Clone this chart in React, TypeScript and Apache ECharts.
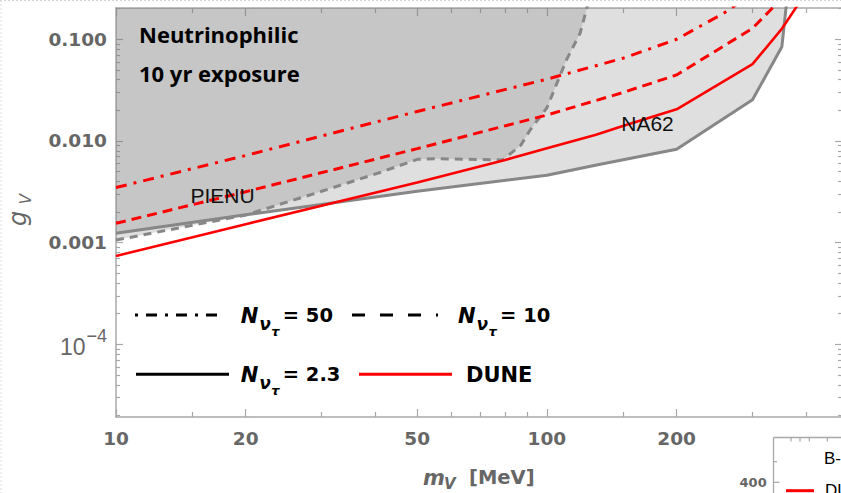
import React, { useEffect, useRef } from 'react';
import * as echarts from 'echarts';

// ---- data ----
const massN50 = [10, 20, 50, 100, 150, 200, 257, 300];
const couplingN50 = [0.00348, 0.0072, 0.0195, 0.0405, 0.065, 0.1, 0.18, 0.28];

const massN10 = [10, 20, 50, 100, 150, 200, 300, 340, 370];
const couplingN10 = [0.00155, 0.00317, 0.0084, 0.018, 0.0299, 0.0446, 0.128, 0.22, 0.35];

const massN23 = [10, 20, 50, 80, 100, 130, 150, 200, 300, 350, 380, 400];
const couplingN23 = [0.00074, 0.00152, 0.0039, 0.0065, 0.0085, 0.0115, 0.014, 0.0205, 0.057, 0.125, 0.21, 0.3];

const massBound = [10, 20, 50, 100, 133, 200, 300, 351, 359, 365];
const couplingBound = [0.00124, 0.00188, 0.0032, 0.0046, 0.0059, 0.0083, 0.0254, 0.0846, 0.206, 0.4];

const massPienu = [10, 20, 30, 41, 50, 55, 79, 87, 91.4, 100, 111, 119.4, 123.8, 127];
const couplingPienu = [0.00106, 0.00187, 0.0032, 0.0049, 0.0066, 0.0067, 0.0065, 0.0091, 0.0128, 0.0212, 0.0626, 0.1146, 0.203, 0.3];

const xMajorTicks = [10, 20, 50, 100, 200];
const xMinorTicks = [15, 30, 40, 60, 70, 80, 90, 150, 300, 400];
const yMajorTicks = [1e-4, 1e-3, 1e-2, 1e-1];
const yTickLabels = ['10^-4', '0.001', '0.010', '0.100'];
const yMinorMultipliers = [2, 3, 4, 5, 6, 7, 8, 9];
const yMinorDecades = [1e-5, 1e-4, 1e-3, 1e-2, 1e-1];

const X_MIN = 10;
const X_MAX = 484;
const Y_MIN = 1.93e-5;
const Y_MAX = 0.203;

const yMinorTicks: number[] = [];
yMinorDecades.forEach((d) => yMinorMultipliers.forEach((m) => yMinorTicks.push(m * d)));

const pairs = (xs: number[], ys: number[]) => xs.map((x, i) => [x, ys[i]]);

const AXIS = '#a8a8a8';
const LABEL = '#666666';
const BOLD_FONT = 'DejaVu Sans';
const FILL = 'rgba(118,118,118,0.23)';

function yFormatter(v: number) {
  const i = yMajorTicks.findIndex((t) => Math.abs(Math.log10(t) - Math.log10(v)) < 1e-6);
  if (i < 0) return '';
  const lab = yTickLabels[i];
  if (lab.startsWith('10^')) {
    return '{p|10}{s|' + lab.slice(3).replace('-', '\u2212') + '}';
  }
  return '{b|' + lab + '}';
}

function xAxisDef(position: 'top' | 'bottom', major: boolean) {
  return {
    type: 'log',
    gridIndex: 0,
    position,
    min: X_MIN,
    max: X_MAX,
    logBase: 10,
    axisLine: { show: major, onZero: false, lineStyle: { color: AXIS, width: 1.5 } },
    axisTick: {
      show: true,
      inside: true,
      length: major ? 8 : 5,
      customValues: major ? xMajorTicks : xMinorTicks,
      lineStyle: { color: AXIS, width: 1.2 },
    },
    axisLabel: major && position === 'bottom'
      ? {
          show: true,
          customValues: xMajorTicks,
          formatter: (v: number) => String(Math.round(v)),
          margin: 12,
          fontFamily: BOLD_FONT,
          fontWeight: 'bold',
          fontSize: 18.5,
          color: LABEL,
        }
      : { show: false },
    splitLine: { show: false },
    minorTick: { show: false },
  };
}

function yAxisDef(position: 'left' | 'right', major: boolean) {
  return {
    type: 'log',
    gridIndex: 0,
    position,
    min: Y_MIN,
    max: Y_MAX,
    logBase: 10,
    axisLine: { show: major, onZero: false, lineStyle: { color: AXIS, width: 1.5 } },
    axisTick: {
      show: true,
      inside: true,
      length: major ? 7 : 4,
      customValues: major ? yMajorTicks : yMinorTicks,
      lineStyle: { color: AXIS, width: 1.2 },
    },
    axisLabel: major && position === 'left'
      ? {
          show: true,
          customValues: yMajorTicks,
          formatter: yFormatter,
          margin: 9,
          rich: {
            b: { fontFamily: BOLD_FONT, fontWeight: 'bold', fontSize: 18.5, color: LABEL },
            p: { fontFamily: 'Liberation Sans', fontSize: 23, color: LABEL, padding: [6, 1, 0, 0] },
            s: { fontFamily: 'Liberation Sans', fontSize: 18, color: LABEL, padding: [0, 0, 17, 0] },
          },
        }
      : { show: false },
    splitLine: { show: false },
    minorTick: { show: false },
  };
}

const txt = (
  text: string,
  x: number,
  y: number,
  font: string,
  fill: string,
  align: string = 'left',
  extra: any = {}
) => ({
  type: 'text',
  x,
  y,
  z: 50,
  silent: true,
  ...extra,
  style: { text, font, fill, align, verticalAlign: 'middle' },
});

const hline = (x1: number, x2: number, y: number, stroke: string, dash?: number[], width = 3) => ({
  type: 'line',
  z: 50,
  silent: true,
  shape: { x1, y1: y, x2, y2: y },
  style: { stroke, lineWidth: width, lineDash: dash },
});

const seg = (x1: number, y1: number, x2: number, y2: number, stroke: string, width = 1.2, dash?: number[]) => ({
  type: 'line',
  z: 50,
  silent: true,
  shape: { x1, y1, x2, y2 },
  style: { stroke, lineWidth: width, lineDash: dash },
});

function legendLabel(x: number, yc: number, value: string) {
  return [
    txt('N', x, yc, 'italic bold 21px "DejaVu Sans"', '#000'),
    txt('\u03bd', x + 18.5, yc + 8.5, 'italic bold 17px "DejaVu Sans"', '#000'),
    txt('\u03c4', x + 30.5, yc + 15.5, 'italic bold 13px "DejaVu Sans"', '#000'),
    txt('= ' + value, x + 42, yc, 'bold 19.5px "DejaVu Sans"', '#000'),
  ];
}

const graphicElements: any[] = [
  // screenshot border
  seg(0, 0.5, 841, 0.5, '#d4d4d4', 1, [2, 2]),
  seg(1, 0, 1, 493, '#dcdcdc', 1, [2, 2]),
  // panel texts
  txt('Neutrinophilic', 139, 33.5, 'bold 22px "Open Sans"', '#000'),
  txt('10 yr exposure', 139, 72.5, 'bold 22px "Open Sans"', '#000'),
  txt('PIENU', 222.5, 195.5, '21px "Liberation Sans"', '#111', 'center'),
  txt('NA62', 647.5, 123, '21px "Liberation Sans"', '#111', 'center'),
  // legend
  hline(135, 219, 315, '#000', [3, 8, 11, 8]),
  ...legendLabel(240.7, 315.8, '50'),
  hline(352, 438, 315, '#000', [13, 15]),
  ...legendLabel(458, 315.8, '10'),
  hline(136, 229, 374.3, '#000'),
  ...legendLabel(240.7, 374.5, '2.3'),
  hline(359, 452, 374.3, '#ff0000'),
  txt('DUNE', 466, 374.5, 'bold 21px "DejaVu Sans"', '#000'),
  // axis titles
  txt('m', 423, 477.5, 'italic bold 21px "DejaVu Sans"', LABEL),
  txt('V', 444, 484, 'italic bold 15px "DejaVu Sans"', LABEL),
  txt('[MeV]', 469, 477, 'bold 19.5px "DejaVu Sans"', LABEL),
  txt('g', 18, 218.5, 'italic 24px "DejaVu Sans"', LABEL, 'center', { rotation: Math.PI / 2 }),
  txt('V', 25.5, 199, 'italic 15px "DejaVu Sans"', LABEL, 'center', { rotation: Math.PI / 2 }),
  // fragment of neighbouring figure (bottom right)
  seg(773.5, 437.5, 845, 437.5, AXIS, 1.3),
  seg(773.5, 437.5, 773.5, 500, AXIS, 1.3),
  seg(791, 437.5, 791, 441.5, AXIS),
  seg(800, 437.5, 800, 441.5, AXIS),
  seg(809.3, 437.5, 809.3, 441.5, AXIS),
  seg(827.3, 437.5, 827.3, 441.5, AXIS),
  seg(773.5, 461.7, 777, 461.7, AXIS),
  seg(773.5, 482.3, 779.5, 482.3, AXIS),
  txt('400', 766.7, 482.5, 'bold 13px "DejaVu Sans"', LABEL, 'right'),
  txt('B-', 824, 458.5, '17px "Liberation Sans"', '#000'),
  hline(786, 814, 490.7, '#ff0000'),
  txt('DU', 825, 490, '17px "Liberation Sans"', '#000'),
];

const option: any = {
  animation: false,
  backgroundColor: '#ffffff',
  grid: {
    left: 116,
    top: 8,
    width: 726,
    height: 409,
    containLabel: false,
    outerBoundsMode: 'none',
  },
  xAxis: [
    xAxisDef('bottom', true),
    xAxisDef('bottom', false),
    xAxisDef('top', true),
    xAxisDef('top', false),
  ],
  yAxis: [
    yAxisDef('left', true),
    yAxisDef('left', false),
    yAxisDef('right', true),
    yAxisDef('right', false),
  ],
  series: [
    {
      type: 'line',
      name: 'Excluded region',
      data: pairs(massBound, couplingBound),
      symbol: 'none',
      lineStyle: { width: 0, opacity: 0 },
      areaStyle: { origin: 'end', color: FILL, opacity: 1 },
      z: 1,
      silent: true,
    },
    {
      type: 'line',
      name: 'PIENU region',
      data: pairs(massPienu, couplingPienu),
      symbol: 'none',
      lineStyle: { width: 0, opacity: 0 },
      areaStyle: { origin: 'end', color: FILL, opacity: 1 },
      z: 1,
      silent: true,
    },
    {
      type: 'line',
      name: 'Bounds',
      data: pairs(massBound, couplingBound),
      symbol: 'none',
      lineStyle: { color: '#878787', width: 3 },
      z: 3,
      silent: true,
    },
    {
      type: 'line',
      name: 'PIENU',
      data: pairs(massPienu, couplingPienu),
      symbol: 'none',
      lineStyle: { color: '#878787', width: 3, type: [8, 6] },
      z: 3,
      silent: true,
    },
    {
      type: 'line',
      name: 'N = 50',
      data: pairs(massN50, couplingN50),
      symbol: 'none',
      lineStyle: { color: '#ff0000', width: 3, type: [11, 7, 3, 7] },
      z: 4,
      silent: true,
    },
    {
      type: 'line',
      name: 'N = 10',
      data: pairs(massN10, couplingN10),
      symbol: 'none',
      lineStyle: { color: '#ff0000', width: 3, type: [10, 6] },
      z: 4,
      silent: true,
    },
    {
      type: 'line',
      name: 'DUNE N = 2.3',
      data: pairs(massN23, couplingN23),
      symbol: 'none',
      lineStyle: { color: '#ff0000', width: 2.6 },
      z: 4,
      silent: true,
    },
  ],
  graphic: { elements: graphicElements },
};

export default function App() {
  const ref = useRef<HTMLDivElement>(null);
  useEffect(() => {
    if (!ref.current) return;
    const chart = echarts.init(ref.current, null, { renderer: 'svg' });
    chart.setOption(option);
    return () => chart.dispose();
  }, []);
  return (
    <div
      ref={ref}
      style={{ position: 'fixed', left: 0, top: 0, width: 841, height: 493, background: '#fff' }}
    />
  );
}
